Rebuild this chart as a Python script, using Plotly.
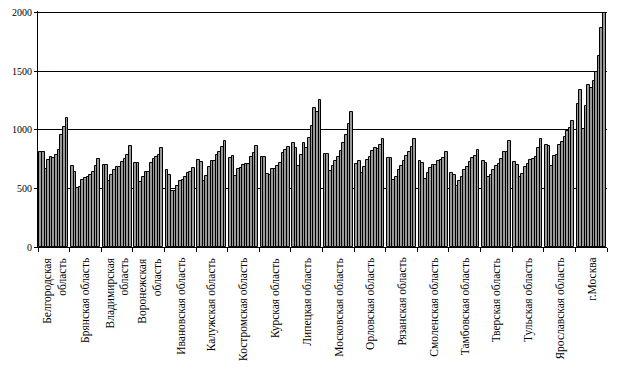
import plotly.graph_objects as go

regions = [
    "Белгородская<br>область", "Брянская область", "Владимирская<br>область",
    "Воронежская<br>область", "Ивановская область", "Калужская область",
    "Костромская область", "Курская область", "Липецкая область",
    "Московская область", "Орловская область", "Рязанская область",
    "Смоленская область", "Тамбовская область", "Тверская область",
    "Тульская область", "Ярославская область", "г.Москва",
]
years = list(range(1995, 2006))

belgorod = [810, 810, 665, 740, 765, 760, 785, 830, 960, 1025, 1100]
bryansk = [690, 638, 503, 512, 572, 590, 600, 615, 637, 690, 750]
vladimir = [705, 705, 568, 613, 656, 683, 688, 724, 752, 784, 859]
voronezh = [715, 715, 558, 598, 638, 643, 714, 748, 767, 784, 844]
ivanovo = [655, 612, 475, 475, 525, 565, 572, 597, 631, 638, 673]
kaluga = [741, 724, 560, 605, 688, 732, 732, 784, 815, 853, 904]
kostroma = [760, 780, 611, 664, 672, 699, 708, 708, 766, 802, 862]
kursk = [765, 765, 625, 615, 670, 665, 690, 715, 800, 825, 858]
lipetsk = [885, 848, 690, 784, 885, 842, 934, 1034, 1187, 1152, 1256]
moscow_obl = [793, 793, 648, 694, 734, 766, 819, 885, 961, 1050, 1158]
oryol = [712, 735, 633, 687, 744, 765, 819, 845, 839, 870, 921]
ryazan = [758, 763, 570, 595, 657, 692, 734, 776, 808, 855, 919]
smolensk = [732, 716, 580, 631, 673, 705, 705, 732, 746, 759, 810]
tambov = [630, 612, 518, 561, 595, 655, 687, 724, 759, 776, 828]
tver = [733, 715, 595, 612, 655, 690, 707, 750, 810, 810, 905]
tula = [725, 703, 595, 623, 685, 710, 745, 752, 770, 845, 920]
yaroslavl = [874, 860, 695, 780, 785, 872, 897, 940, 990, 1015, 1075]
moscow = [1226, 1342, 1010, 1201, 1386, 1360, 1420, 1498, 1631, 1876, 2000]

values = [belgorod, bryansk, vladimir, voronezh, ivanovo, kaluga, kostroma,
          kursk, lipetsk, moscow_obl, oryol, ryazan, smolensk, tambov, tver,
          tula, yaroslavl, moscow]

y_ticks = [0, 500, 1000, 1500, 2000]

slots = len(years) + 1  # 11 bars + one empty slot per region
xs, ys, hover = [], [], []
for k, vals in enumerate(values):
    for j, v in enumerate(vals):
        xs.append(k * slots + j + 1)
        ys.append(v)
        hover.append(f"{regions[k].replace('<br>', ' ')}, {years[j]}")

fig = go.Figure(go.Bar(
    x=xs, y=ys, width=1, hovertext=hover,
    marker=dict(color="#999999", line=dict(color="#000000", width=1)),
))

total = slots * len(regions)
fig.update_layout(
    width=611, height=364,
    margin=dict(l=30, r=12, t=0, b=125),
    paper_bgcolor="white", plot_bgcolor="white",
    showlegend=False, bargap=0,
    font=dict(family="Liberation Serif", color="black", size=10),
    xaxis=dict(
        range=[0, total], tickvals=[k * slots for k in range(len(regions) + 1)],
        showticklabels=False, ticks="outside", ticklen=4, tickcolor="black",
        showline=True, linecolor="black", linewidth=1,
        showgrid=False, zeroline=False,
    ),
    yaxis=dict(
        range=[0, 2017], tickvals=y_ticks, ticks="outside", ticklen=3,
        tickcolor="black", showline=True, linecolor="black", linewidth=1,
        showgrid=True, gridcolor="black", gridwidth=1, zeroline=False,
        ticklabeloverflow="allow",
        tickfont=dict(family="Liberation Serif", size=10, color="black"),
    ),
)

for k, name in enumerate(regions):
    fig.add_annotation(
        x=k * slots + slots / 2, y=0, xref="x", yref="paper",
        yshift=-9, text=name, textangle=-90, showarrow=False,
        xanchor="center", yanchor="top", align="right",
        font=dict(family="Liberation Serif", size=11.5, color="black"),
    )

fig.write_html("out.html")
